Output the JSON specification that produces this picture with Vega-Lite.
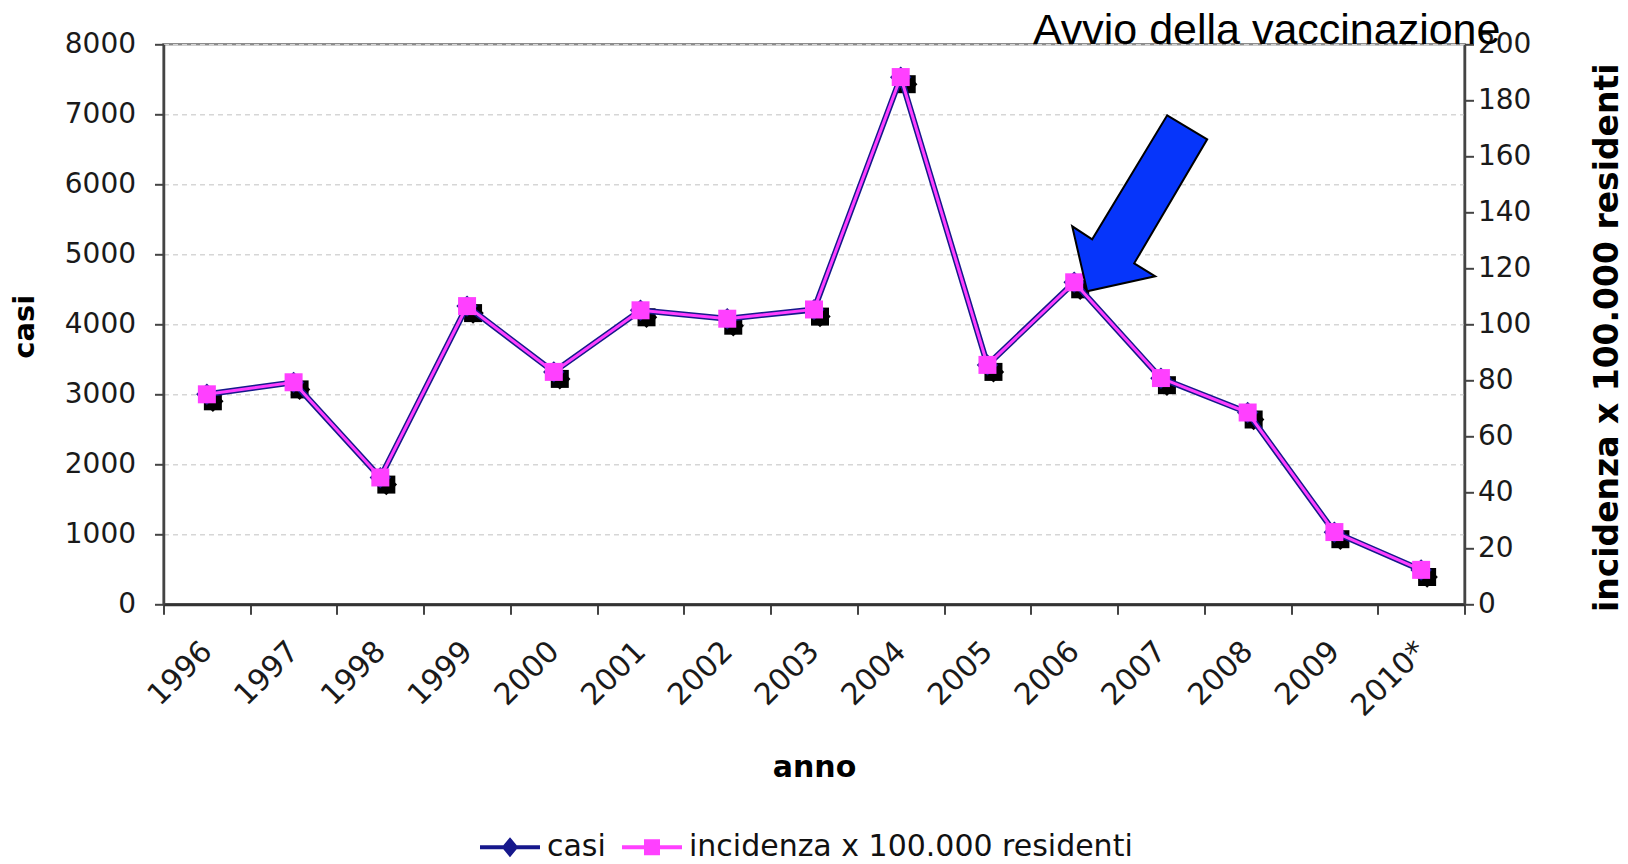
{
  "$schema": "https://vega.github.io/schema/vega-lite/v6.json",
  "width": 1301,
  "height": 560,
  "autosize": {"type": "none"},
  "padding": {"left": 163.5, "top": 44.3, "right": 163.7, "bottom": 259.7},
  "background": "white",
  "config": {
    "view": {"stroke": "#8c8c8c", "strokeWidth": 2.5},
    "font": "DejaVu Sans",
    "axis": {
      "labelFont": "DejaVu Sans",
      "labelColor": "#1a1a1a",
      "labelFontSize": 28,
      "labelOverlap": false,
      "titleFont": "DejaVu Sans",
      "titleFontWeight": "bold",
      "titleFontSize": 31,
      "titleColor": "#000000",
      "domainColor": "#444444",
      "domainWidth": 2.5,
      "tickColor": "#444444",
      "tickWidth": 2,
      "tickSize": 9
    }
  },
  "data": {
    "values": [
      {"anno": "1996", "casi": 3000, "incidenza": 75.0},
      {"anno": "1997", "casi": 3170, "incidenza": 79.3},
      {"anno": "1998", "casi": 1810, "incidenza": 45.3},
      {"anno": "1999", "casi": 4260, "incidenza": 106.5},
      {"anno": "2000", "casi": 3320, "incidenza": 83.0},
      {"anno": "2001", "casi": 4200, "incidenza": 105.0},
      {"anno": "2002", "casi": 4080, "incidenza": 102.0},
      {"anno": "2003", "casi": 4210, "incidenza": 105.3},
      {"anno": "2004", "casi": 7530, "incidenza": 188.3},
      {"anno": "2005", "casi": 3420, "incidenza": 85.5},
      {"anno": "2006", "casi": 4600, "incidenza": 115.0},
      {"anno": "2007", "casi": 3230, "incidenza": 80.8},
      {"anno": "2008", "casi": 2740, "incidenza": 68.5},
      {"anno": "2009", "casi": 1030, "incidenza": 25.8},
      {"anno": "2010*", "casi": 490, "incidenza": 12.3}
    ]
  },
  "encoding": {
    "x": {
      "field": "anno",
      "type": "ordinal",
      "sort": null,
      "scale": {"type": "band", "paddingInner": 0, "paddingOuter": 0},
      "axis": {
        "title": "anno",
        "tickBand": "extent",
        "tickSize": 10,
        "domainColor": "#333333",
        "domainWidth": 3,
        "labelAngle": -45,
        "labelAlign": "right",
        "labelBaseline": "middle",
        "labelFontSize": 30,
        "labelPadding": 32,
        "titleFontSize": 30,
        "titleX": 650.5,
        "titleY": 163.7,
        "titleAlign": "center",
        "titleBaseline": "middle"
      }
    }
  },
  "layer": [
    {
      "encoding": {
        "y": {
          "field": "casi",
          "type": "quantitative",
          "scale": {"domain": [0, 8000], "nice": false, "zero": true},
          "axis": {
            "title": "casi",
            "orient": "left",
            "format": "d",
            "values": [0, 1000, 2000, 3000, 4000, 5000, 6000, 7000, 8000],
            "grid": true,
            "gridColor": "#d6d6d6",
            "gridDash": [5, 4],
            "gridWidth": 1.5,
            "labelPadding": 19,
            "titleFontSize": 29,
            "titleAngle": 270,
            "titleX": -138.5,
            "titleY": 282,
            "titleAlign": "center",
            "titleBaseline": "middle"
          }
        }
      },
      "layer": [
        {
          "mark": {"type": "point", "shape": "square", "filled": true, "color": "#000000", "size": 324, "opacity": 1, "xOffset": 6, "yOffset": 7}
        },
        {
          "mark": {"type": "point", "shape": "diamond", "filled": true, "color": "#000000", "size": 460, "opacity": 1, "xOffset": 6, "yOffset": 7}
        },
        {
          "mark": {"type": "line", "strokeWidth": 6},
          "encoding": {
            "color": {
              "datum": "casi",
              "scale": {
                "domain": ["casi", "incidenza x 100.000 residenti"],
                "range": ["#16188c", "#ff40ff"]
              },
              "legend": {
                "title": null,
                "orient": "none",
                "legendX": 314.5,
                "legendY": 771,
                "direction": "horizontal",
                "padding": 0,
                "symbolSize": 3600,
                "symbolStrokeWidth": 4,
                "labelFont": "DejaVu Sans",
                "labelFontSize": 30,
                "labelColor": "#111111",
                "labelLimit": 0,
                "labelOffset": 5,
                "columnPadding": 8,
                "encode": {
                  "symbols": {
                    "update": {
                      "shape": {"signal": "datum.value === 'casi' ? 'M -1 0 L 1 0 M 0 -0.23 L 0.19 0 L 0 0.23 L -0.19 0 Z' : 'M -1 0 L 1 0 M -0.2 -0.2 L 0.2 -0.2 L 0.2 0.2 L -0.2 0.2 Z'"},
                      "fill": {"signal": "datum.value === 'casi' ? '#16188c' : '#ff40ff'"},
                      "stroke": {"signal": "datum.value === 'casi' ? '#16188c' : '#ff40ff'"},
                      "strokeWidth": {"value": 4},
                      "opacity": {"value": 1},
                      "fillOpacity": {"value": 1},
                      "strokeOpacity": {"value": 1}
                    }
                  }
                }
              }
            }
          }
        },
        {
          "mark": {"type": "point", "shape": "diamond", "filled": true, "color": "#16188c", "size": 460, "opacity": 1}
        }
      ]
    },
    {
      "encoding": {
        "y": {
          "field": "incidenza",
          "type": "quantitative",
          "scale": {"domain": [0, 200], "nice": false, "zero": true},
          "axis": {
            "title": "incidenza x 100.000 residenti",
            "orient": "right",
            "format": "d",
            "values": [0, 20, 40, 60, 80, 100, 120, 140, 160, 180, 200],
            "grid": false,
            "labelPadding": 4,
            "titleFontSize": 33,
            "titleAngle": 270,
            "titleX": 143,
            "titleY": 293,
            "titleAlign": "center",
            "titleBaseline": "middle"
          }
        }
      },
      "layer": [
        {
          "mark": {"type": "line", "strokeWidth": 3},
          "encoding": {
            "color": {"datum": "incidenza x 100.000 residenti"}
          }
        },
        {
          "mark": {"type": "point", "shape": "square", "filled": true, "color": "#ff40ff", "size": 324, "opacity": 1}
        },
        {
          "data": {"values": [{"anno": "2006", "incidenza": 115.0}]},
          "mark": {
            "type": "point",
            "shape": "M 0.13 0.09 L -0.02 -0.56 L 0.18 -0.43 L 0.93 -1.67 L 1.33 -1.43 L 0.60 -0.19 L 0.81 -0.06 Z",
            "size": 40000,
            "filled": true,
            "fill": "#0635fa",
            "stroke": "#000000",
            "strokeWidth": 2,
            "opacity": 1
          }
        },
        {
          "data": {"values": [{"anno": "2008", "incidenza": 200, "nota": "Avvio della vaccinazione"}]},
          "mark": {
            "type": "text",
            "font": "Liberation Sans",
            "fontSize": 43,
            "color": "#000000",
            "align": "center",
            "baseline": "alphabetic",
            "dx": 19
          },
          "encoding": {
            "text": {"field": "nota"}
          }
        }
      ]
    }
  ],
  "resolve": {"scale": {"y": "independent"}}
}
